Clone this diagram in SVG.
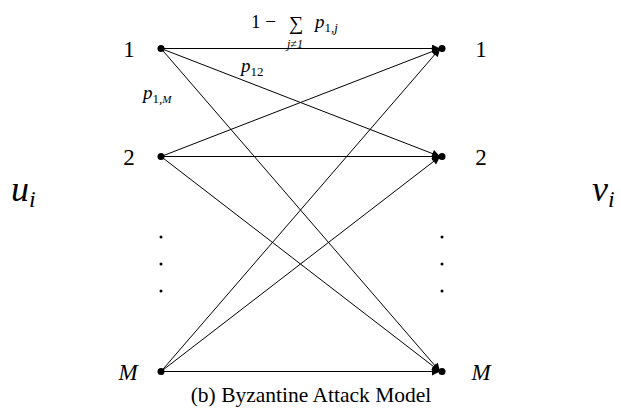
<svg xmlns="http://www.w3.org/2000/svg" width="621" height="413" viewBox="0 0 621 413">
<defs>
<marker id="ah" viewBox="0 0 10 10" refX="10" refY="5" markerWidth="10" markerHeight="8" markerUnits="userSpaceOnUse" orient="auto">
<path d="M0,0 L10,5 L0,10 z" fill="#000"/>
</marker>
</defs>
<style>
.e{stroke:#000;stroke-width:1;fill:none;marker-end:url(#ah)}
text{font-family:'Liberation Serif','DejaVu Serif',serif;fill:#000}
.m{font-style:italic}
</style>
<rect width="621" height="413" fill="#fff"/>
<g id="connectors">
<line class="e" x1="161" y1="48.5" x2="440" y2="48.5"/>
<line class="e" x1="161" y1="48.5" x2="440" y2="156.5"/>
<line class="e" x1="161" y1="48.5" x2="440" y2="371.5"/>
<line class="e" x1="161" y1="156.5" x2="440" y2="48.5"/>
<line class="e" x1="161" y1="156.5" x2="440" y2="156.5"/>
<line class="e" x1="161" y1="156.5" x2="440" y2="371.5"/>
<line class="e" x1="161" y1="371.5" x2="440" y2="48.5"/>
<line class="e" x1="161" y1="371.5" x2="440" y2="156.5"/>
<line class="e" x1="161" y1="371.5" x2="440" y2="371.5"/>
</g>
<g id="u1"><circle cx="161" cy="48.5" r="3.5"/><text font-family="Liberation Serif, DejaVu Serif, serif" x="129" y="57" font-size="23" text-anchor="middle">1</text></g>
<g id="u2"><circle cx="161" cy="156.5" r="3.5"/><text font-family="Liberation Serif, DejaVu Serif, serif" x="129" y="165" font-size="23" text-anchor="middle">2</text></g>
<g id="uM"><circle cx="161" cy="371.5" r="3.5"/><text class="m" font-family="Liberation Serif, DejaVu Serif, serif" x="128" y="380" font-size="23" text-anchor="middle">M</text></g>
<g id="udots"><circle cx="161" cy="237" r="1.5"/><circle cx="161" cy="264" r="1.5"/><circle cx="161" cy="291" r="1.5"/></g>
<g id="v1"><circle cx="442" cy="48.5" r="3.5"/><text font-family="Liberation Serif, DejaVu Serif, serif" x="481" y="57" font-size="23" text-anchor="middle">1</text></g>
<g id="v2"><circle cx="442" cy="156.5" r="3.5"/><text font-family="Liberation Serif, DejaVu Serif, serif" x="481" y="165" font-size="23" text-anchor="middle">2</text></g>
<g id="vM"><circle cx="442" cy="371.5" r="3.5"/><text class="m" font-family="Liberation Serif, DejaVu Serif, serif" x="481" y="380" font-size="23" text-anchor="middle">M</text></g>
<g id="vdots"><circle cx="442" cy="237" r="1.5"/><circle cx="442" cy="264" r="1.5"/><circle cx="442" cy="291" r="1.5"/></g>
<g id="labels" font-family="Liberation Serif, DejaVu Serif, serif">
<text x="251" y="28" font-size="19">1 −</text>
<text x="289" y="30" font-size="20">∑</text>
<text class="m" x="287" y="48" font-size="12">j≠1</text>
<text class="m" x="315" y="28" font-size="19">p<tspan font-size="13" dy="4" font-style="normal">1,</tspan><tspan font-size="13">j</tspan></text>
<text class="m" x="241" y="72" font-size="19">p<tspan font-size="13" dy="4" font-style="normal">12</tspan></text>
<text class="m" x="143" y="99" font-size="19">p<tspan font-size="13" dy="4" font-style="normal">1,</tspan><tspan font-size="11">M</tspan></text>
</g>
<g id="ui"><text class="m" font-family="Liberation Serif, DejaVu Serif, serif" x="11" y="201" font-size="36">u<tspan font-size="24" dy="6">i</tspan></text></g>
<g id="vi"><text class="m" font-family="Liberation Serif, DejaVu Serif, serif" x="592" y="201" font-size="36">v<tspan font-size="24" dy="6">i</tspan></text></g>
<text font-family="Liberation Serif, DejaVu Serif, serif" x="311" y="402" font-size="21.5" text-anchor="middle">(b) Byzantine Attack Model</text>
</svg>
